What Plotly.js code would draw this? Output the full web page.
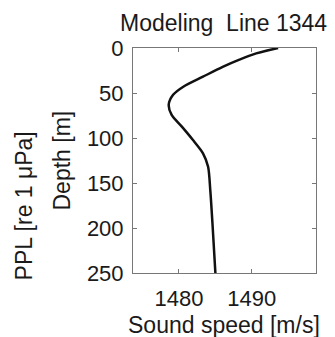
<!DOCTYPE html>
<html>
<head>
<meta charset="utf-8">
<script src="https://cdn.plot.ly/plotly-3.0.1.min.js"></script>
<style>html,body{margin:0;padding:0;background:#fff;}#chart{width:335px;height:337px;}</style>
</head>
<body>
<div id="chart"></div>
<script>
const depth = [0, 6, 13, 21, 31.9, 43, 52, 63, 74.4, 87.4, 102, 117, 132, 158, 195, 250];
const soundSpeed = [1493.6, 1490.6, 1488.3, 1486.0, 1483.3, 1480.6, 1479.2, 1478.6, 1479.0, 1480.4, 1481.9, 1483.3, 1484.0, 1484.3, 1484.6, 1485.0];
const xTicks = [1480, 1490];
const yTicks = [0, 50, 100, 150, 200, 250];
const titleText = 'Modeling  Line 1344';
const xTitle = 'Sound speed [m/s]';
const yTitle = 'Depth [m]';
const outerLabel = 'PPL [re 1 μPa]';

const font = 'Liberation Sans, Arial, sans-serif';
const txt = '#1a1a1a';
const tickSize = 22, titleSize = 23;

Plotly.newPlot('chart', [{
  x: soundSpeed, y: depth, type: 'scatter', mode: 'lines',
  line: {color: '#111', width: 2.5, shape: 'spline', smoothing: 0.8},
  hoverinfo: 'skip'
}], {
  width: 335, height: 337,
  margin: {l: 133, r: 19, t: 48, b: 64},
  paper_bgcolor: '#fff', plot_bgcolor: '#fff',
  showlegend: false,
  font: {family: font, size: tickSize, color: txt},
  title: {text: titleText, font: {family: font, size: titleSize, color: txt}, xref: 'paper', x: 0.495, xanchor: 'center', y: 0.932, yanchor: 'middle'},
  xaxis: {
    range: [1473.7, 1498.8], tickvals: xTicks, ticktext: xTicks.map(String),
    ticks: 'inside', ticklen: 4, tickcolor: '#777', tickwidth: 1,
    showline: true, linecolor: '#777', linewidth: 1, mirror: 'ticks',
    showgrid: false, zeroline: false, ticklabelstandoff: 6,
    tickfont: {family: font, size: tickSize, color: txt}
  },
  yaxis: {
    range: [250, 0], tickvals: yTicks, ticktext: yTicks.map(String),
    ticks: 'inside', ticklen: 4, tickcolor: '#777', tickwidth: 1,
    showline: true, linecolor: '#777', linewidth: 1, mirror: 'ticks',
    showgrid: false, zeroline: false, ticklabelstandoff: 4,
    tickfont: {family: font, size: tickSize, color: txt}
  },
  annotations: [
    {text: xTitle, xref: 'paper', yref: 'paper', x: 0.495, y: -0.231, xanchor: 'center', yanchor: 'middle', showarrow: false, font: {family: font, size: titleSize, color: txt}},
    {text: yTitle, xref: 'paper', yref: 'paper', x: -0.388, y: 0.5, xanchor: 'center', yanchor: 'middle', textangle: -90, showarrow: false, font: {family: font, size: titleSize, color: txt}},
    {text: outerLabel, xref: 'paper', yref: 'paper', x: -0.596, y: 0.30, xanchor: 'center', yanchor: 'middle', textangle: -90, showarrow: false, font: {family: font, size: titleSize, color: txt}}
  ]
}, {displayModeBar: false, staticPlot: true});
</script>
</body>
</html>
